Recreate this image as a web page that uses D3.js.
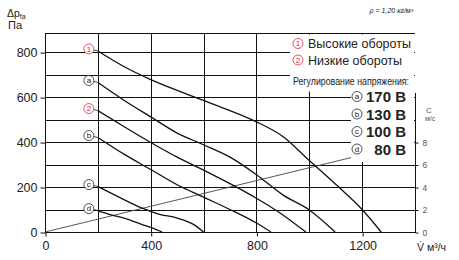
<!DOCTYPE html>
<meta charset="UTF-8">
<head>
<script src="https://d3js.org/d3.v7.min.js"></script>
<style>
  body { margin: 0; background: #fff; }
  text { font-family: "Liberation Sans", Arial, sans-serif; }
</style>
</head>
<body>
<svg id="svg" width="459" height="260"></svg>
<script>
// axes
const flowTicks = [0, 400, 800, 1200];
const flowGrid = [200, 400, 600, 800, 1000, 1200];
const pressTicks = [0, 200, 400, 600, 800];
const pressGrid = [100, 200, 300, 400, 500, 600, 700, 800];
const velTicks = [0, 2, 4, 6, 8];

// fan curves, [m3/h, Pa]
const curveHigh = [[200,805],[300,735],[400,678],[500,630],[600,585],[700,540],[800,490],[900,425],[1000,318],[1100,212],[1200,100],[1272,0]];
const curveA    = [[200,665],[300,585],[400,512],[500,440],[600,388],[700,333],[800,255],[900,165],[1000,98],[1098,0]];
const curveLow  = [[200,540],[300,468],[400,398],[500,333],[600,275],[700,215],[800,150],[900,76],[987,0]];
const curveB    = [[200,420],[300,345],[400,278],[500,210],[600,155],[700,100],[800,40],[855,0]];
const curveC    = [[200,202],[280,155],[370,105],[430,80],[500,62],[560,35],[600,0]];
const curveD    = [[200,95],[250,76],[300,62],[370,32],[410,16],[443,0]];
const curveLabels = ["1", "a", "2", "b", "c", "d"];
const labelColors = ["#e0283a", "#222", "#e0283a", "#222", "#222", "#222"];

// air velocity line, [m3/h, m/s]
const velLine = [[0, 0], [1400, 8]];

const speedItems = ["Высокие обороты", "Низкие обороты"];
const voltItems = ["170 В", "130 В", "100 В", "80 В"];
const voltLabels = ["a", "b", "c", "d"];

const svg = d3.select("#svg");
const x = d3.scaleLinear().domain([0, 1400]).range([45, 415]);
const y = d3.scaleLinear().domain([0, 885]).range([232, 33]);
const v = d3.scaleLinear().domain([0, 8]).range([y(0), y(400)]);

// small circled marker like ① / ⓐ
function circled(cx, cy, ch, color) {
  svg.append("circle").attr("cx", cx).attr("cy", cy).attr("r", 5)
    .attr("fill", "#fff").attr("stroke", color).attr("stroke-width", 0.8);
  svg.append("text").attr("x", cx).attr("y", cy + 2.8).attr("text-anchor", "middle")
    .attr("font-size", 8).attr("fill", color).text(ch);
}

// grid
svg.selectAll(".hg").data(pressGrid).enter().append("line")
  .attr("x1", x(0)).attr("x2", x(1400))
  .attr("y1", d => Math.round(y(d)) + 0.5).attr("y2", d => Math.round(y(d)) + 0.5)
  .attr("stroke", "#111").attr("stroke-width", 1);
svg.selectAll(".vg").data(flowGrid).enter().append("line")
  .attr("x1", d => Math.round(x(d)) + 0.5).attr("x2", d => Math.round(x(d)) + 0.5)
  .attr("y1", y(885)).attr("y2", y(0))
  .attr("stroke", "#111").attr("stroke-width", 1);

// velocity line
svg.append("line")
  .attr("x1", x(velLine[0][0])).attr("y1", v(velLine[0][1]))
  .attr("x2", x(velLine[1][0])).attr("y2", v(velLine[1][1]))
  .attr("stroke", "#444").attr("stroke-width", 0.9);

// legend backgrounds hide grid behind text
svg.append("rect").attr("x", 290).attr("y", 34.5).attr("width", 124).attr("height", 57).attr("fill", "#fff");
svg.append("rect").attr("x", 351).attr("y", 90).attr("width", 63).attr("height", 72).attr("fill", "#fff");

// frame
svg.append("line").attr("x1", x(0)).attr("x2", x(1400)).attr("y1", Math.round(y(885)) + 0.5).attr("y2", Math.round(y(885)) + 0.5).attr("stroke", "#111");
svg.append("line").attr("x1", x(0)).attr("x2", x(1400)).attr("y1", y(0) + 0.5).attr("y2", y(0) + 0.5).attr("stroke", "#111");
svg.append("line").attr("x1", x(0) + 0.5).attr("x2", x(0) + 0.5).attr("y1", y(885)).attr("y2", y(0)).attr("stroke", "#111");
svg.append("line").attr("x1", x(1400) + 0.5).attr("x2", x(1400) + 0.5).attr("y1", 93).attr("y2", y(0) + 1).attr("stroke", "#111");

const fmt = d3.format("d");

// left axis
const left = svg.append("g").attr("transform", `translate(${x(0) + 0.5},0.5)`)
  .call(d3.axisLeft(y).tickValues(pressTicks).tickFormat(fmt).tickSize(5).tickPadding(3));
left.select(".domain").remove();
left.selectAll("line").attr("stroke", "#111");
left.selectAll("text").attr("font-size", 12.5).attr("fill", "#222").attr("font-family", "Liberation Sans, Arial, sans-serif");

// bottom axis
const bottom = svg.append("g").attr("transform", `translate(0.5,${y(0) + 0.5})`)
  .call(d3.axisBottom(x).tickValues(flowTicks).tickFormat(fmt).tickSize(4).tickPadding(5));
bottom.select(".domain").remove();
bottom.selectAll("line").attr("stroke", "#111");
bottom.selectAll("text").attr("font-size", 12.5).attr("fill", "#222").attr("font-family", "Liberation Sans, Arial, sans-serif");

// right axis (velocity)
const right = svg.append("g").attr("transform", `translate(${x(1400) + 0.5},0.5)`)
  .call(d3.axisRight(v).tickValues(velTicks).tickFormat(fmt).tickSize(3).tickPadding(4));
right.select(".domain").remove();
right.selectAll("line").attr("stroke", "#111");
right.selectAll("text").attr("font-size", 8.5).attr("fill", "#555").attr("font-family", "Liberation Sans, Arial, sans-serif");

// fan curves
const line = d3.line().x(d => x(d[0])).y(d => y(d[1])).curve(d3.curveMonotoneX);
const curves = [curveHigh, curveA, curveLow, curveB, curveC, curveD];
svg.selectAll(".fan").data(curves).enter().append("path")
  .attr("d", line).attr("fill", "none").attr("stroke", "#111").attr("stroke-width", 1.3);

// curve labels with small leaders
curves.forEach((c, i) => {
  const px = x(c[0][0]), py = y(c[0][1]);
  svg.append("line").attr("x1", px - 4).attr("x2", px).attr("y1", py - 1).attr("y2", py).attr("stroke", "#111").attr("stroke-width", 0.8);
  circled(px - 9, py - 2, curveLabels[i], labelColors[i]);
});

// titles
const yt = svg.append("text").attr("x", 7).attr("y", 17).attr("font-size", 10.5).attr("fill", "#222");
yt.append("tspan").text("Δp");
yt.append("tspan").attr("font-size", 7).attr("dy", 2).text("fa");
svg.append("text").attr("x", 8).attr("y", 29).attr("font-size", 11).attr("fill", "#222").text("Па");
svg.append("text").attr("x", 417).attr("y", 251).attr("font-size", 10.5).attr("fill", "#222").text("V̇ м³/ч");
svg.append("text").attr("x", 426).attr("y", 113).attr("font-size", 8).attr("fill", "#555").text("С");
svg.append("text").attr("x", 425).attr("y", 121).attr("font-size", 7).attr("fill", "#555").text("м/с");

// density note
svg.append("text").attr("x", 413).attr("y", 13).attr("text-anchor", "end")
  .attr("font-size", 7).attr("font-style", "italic").attr("fill", "#222").text("ρ = 1,20 кг/м³");

// speed legend
speedItems.forEach((t, i) => {
  circled(298, 43.5 + i * 16.5, i === 0 ? "1" : "2", "#e0283a");
  svg.append("text").attr("x", 308).attr("y", 48 + i * 16.5)
    .attr("font-size", 12.5).attr("fill", "#222").text(t);
});
svg.append("text").attr("x", 293).attr("y", 85).attr("font-size", 10.5)
  .attr("font-family", "Liberation Sans Narrow, Liberation Sans, sans-serif")
  .attr("textLength", 116).attr("lengthAdjust", "spacingAndGlyphs")
  .attr("fill", "#222").text("Регулирование напряжения:");

// voltage legend
voltItems.forEach((t, i) => {
  const by = 102 + i * 17.5;
  circled(357, by - 5.5, voltLabels[i], "#222");
  svg.append("text").attr("x", 406).attr("y", by).attr("text-anchor", "end")
    .attr("font-size", 15).attr("font-weight", "bold").attr("fill", "#222").text(t);
});
</script>
</body>
